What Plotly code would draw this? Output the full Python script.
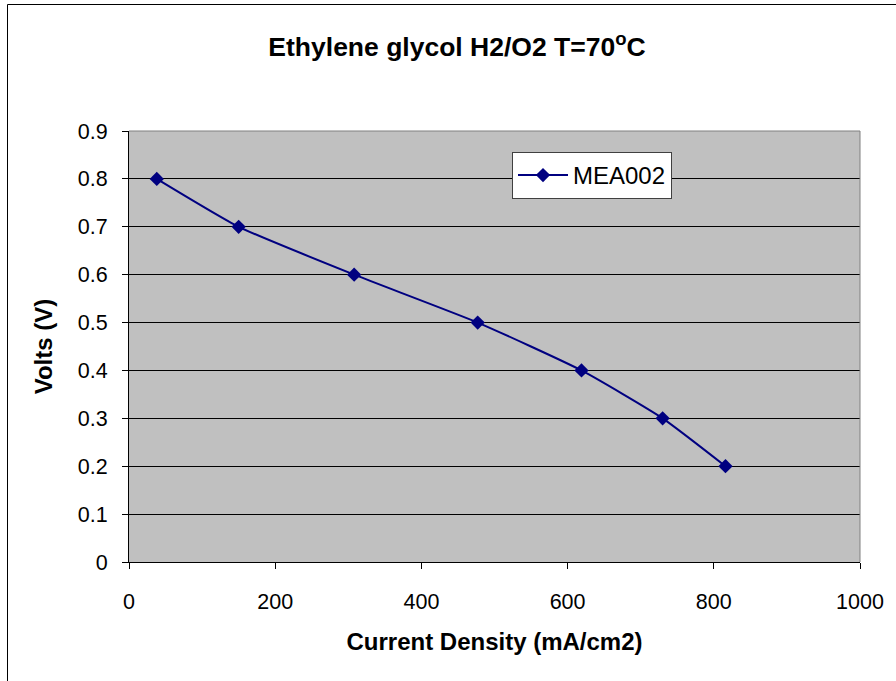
import plotly.graph_objects as go

current_density = [38, 150, 308, 477, 619, 730, 816]
volts = [0.8, 0.7, 0.6, 0.5, 0.4, 0.3, 0.2]
series_name = "MEA002"
x_ticks = [0, 200, 400, 600, 800, 1000]
y_ticks = [0, 0.1, 0.2, 0.3, 0.4, 0.5, 0.6, 0.7, 0.8, 0.9]

W, H = 896, 681
ML, MR, MT, MB = 129, 36, 131, 119
PW, PH = W - ML - MR, H - MT - MB

def px(xp):
    return (xp - ML) / PW

def py(yp):
    return (H - MB - yp) / PH

FONT = "Liberation Sans, Arial, sans-serif"
NAVY = "#000080"

fig = go.Figure()
fig.add_trace(go.Scatter(
    x=current_density, y=volts, name=series_name,
    mode="lines+markers",
    line=dict(color=NAVY, width=2, shape="spline", smoothing=0.5),
    marker=dict(symbol="diamond", size=11, color=NAVY),
))

fig.update_layout(
    width=W, height=H,
    margin=dict(l=ML, r=MR, t=MT, b=MB),
    paper_bgcolor="white",
    plot_bgcolor="#C0C0C0",
    font=dict(family=FONT, size=21.5, color="black"),
    title=dict(
        text="<b>Ethylene glycol H2/O2 T=70<sup>o</sup>C</b>",
        font=dict(size=26.5),
        x=457 / W, xanchor="center", xref="container",
        y=1 - 47 / H, yanchor="middle", yref="container",
    ),
    showlegend=True,
    legend=dict(
        x=px(512), y=py(152), xanchor="left", yanchor="top",
        bgcolor="white", bordercolor="#404040", borderwidth=1,
        font=dict(size=24), itemwidth=50,
        tracegroupgap=0,
    ),
    xaxis=dict(
        range=[0, 1000], tickvals=x_ticks,
        showgrid=False, zeroline=False,
        showline=True, linecolor="black", linewidth=1,
        ticks="outside", ticklen=6, tickcolor="black",
        ticklabelstandoff=14,
        title=dict(text="<b>Current Density (mA/cm2)</b>", font=dict(size=24), standoff=20),
    ),
    yaxis=dict(
        range=[0, 0.9], tickvals=y_ticks,
        ticktext=["0"] + [f"{v:.1f}" for v in y_ticks[1:]],
        showgrid=True, gridcolor="#000000", gridwidth=1,
        zeroline=False,
        showline=True, linecolor="black", linewidth=1,
        ticks="outside", ticklen=6, tickcolor="black",
        ticklabelstandoff=10,
        title=dict(text="<b>Volts (V)</b>", font=dict(size=24), standoff=18),
    ),
)

# gray border on top and right of plot area
fig.add_shape(type="line", xref="paper", yref="paper", x0=0, x1=1, y0=1, y1=1,
              line=dict(color="#808080", width=1))
fig.add_shape(type="line", xref="paper", yref="paper", x0=1, x1=1, y0=0, y1=1,
              line=dict(color="#808080", width=1))
# outer chart frame (extends beyond the viewport right and bottom)
fig.add_shape(type="line", xref="paper", yref="paper",
              x0=px(7.5), x1=px(W + 10), y0=py(4.5), y1=py(4.5),
              line=dict(color="black", width=1))
fig.add_shape(type="line", xref="paper", yref="paper",
              x0=px(7.5), x1=px(7.5), y0=py(4.5), y1=py(H + 10),
              line=dict(color="black", width=1))

fig.write_html("out.html")
